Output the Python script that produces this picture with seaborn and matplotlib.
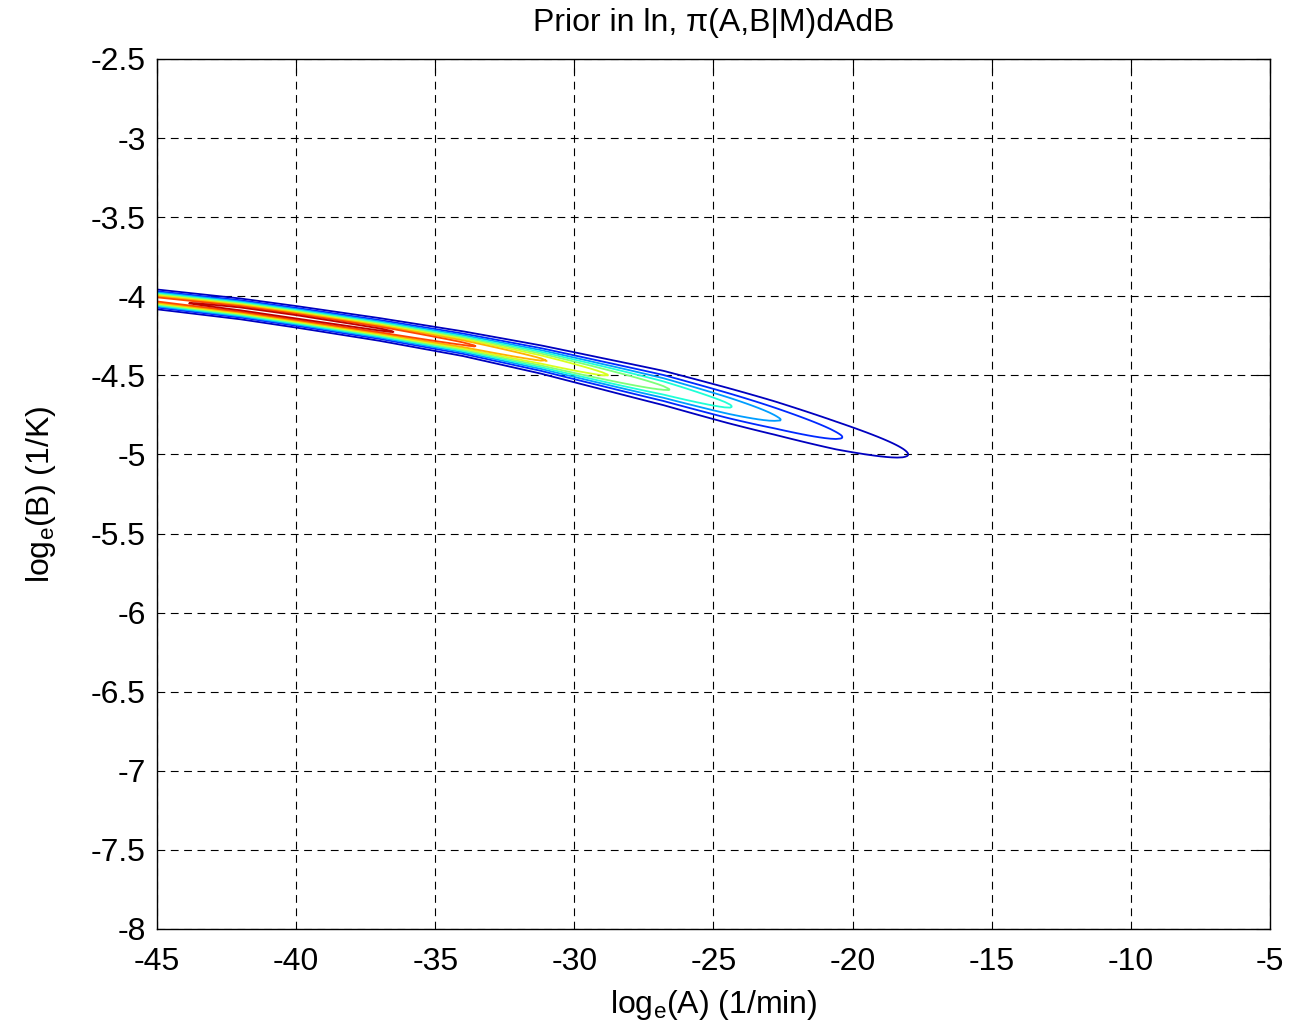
import numpy as np
import matplotlib
matplotlib.use("Agg")
import matplotlib.pyplot as plt
import seaborn as sns

# ---- data ----
ridge_A = [-45.0, -42.0, -40.0, -37.0, -34.0, -31.2, -29.0, -26.8, -24.5, -22.8, -20.6, -18.0, -16.5]
ridge_B = [-4.02, -4.08, -4.13, -4.21, -4.30, -4.40, -4.49, -4.58, -4.69, -4.77, -4.88, -5.00, -5.08]
ridge_peak = [0.88, 0.94, 0.95, 0.92, 0.82, 0.71, 0.61, 0.51, 0.41, 0.31, 0.21, 0.10, 0.0]
ridge_width = [0.030, 0.031, 0.032, 0.034, 0.038, 0.045, 0.052, 0.060, 0.066, 0.070, 0.072, 0.068, 0.06]
levels = [0.1, 0.2, 0.3, 0.4, 0.5, 0.6, 0.7, 0.8, 0.9]
x_ticks = [-45, -40, -35, -30, -25, -20, -15, -10, -5]
y_ticks = [-2.5, -3, -3.5, -4, -4.5, -5, -5.5, -6, -6.5, -7, -7.5, -8]

sns.set_style("white")
plt.rcParams["font.family"] = ["Liberation Sans", "DejaVu Sans"]
plt.rcParams["mathtext.default"] = "regular"
plt.rcParams["text.color"] = "black"
plt.rcParams["axes.labelcolor"] = "black"

fig = plt.figure(figsize=(12.91, 10.29), dpi=100)
ax = fig.add_axes([0.1216, 0.0972, 0.9837 - 0.1216, 0.9427 - 0.0972])

gA = np.arange(-45, -4.99, 0.2)
gB = np.arange(-8, -2.499, 0.005)
AA, BB = np.meshgrid(gA, gB)
cen = np.interp(AA, ridge_A, ridge_B)
amp = np.interp(AA, ridge_A, ridge_peak)
wid = np.interp(AA, ridge_A, ridge_width)
Z = amp * np.exp(-0.5 * ((BB - cen) / wid) ** 2)

cmap = plt.get_cmap("jet")
ax.contour(AA, BB, Z, levels=levels, cmap=cmap, vmin=0.05, vmax=0.95, linewidths=1.3)

ax.set_xlim(-45, -5)
ax.set_ylim(-8, -2.5)
ax.set_xticks(x_ticks)
ax.set_yticks(y_ticks)
ax.set_xticklabels([str(t) for t in x_ticks])
ax.set_yticklabels([("%g" % t) for t in y_ticks])
ax.grid(True, color="black", linestyle=(0, (7, 5)), linewidth=0.8)
ax.tick_params(direction="in", length=10, width=0.8, top=True, right=True,
               labelsize=23, colors="black")
ax.tick_params(axis="x", pad=13)
ax.tick_params(axis="y", pad=8)
for s in ax.spines.values():
    s.set_color("black")
    s.set_linewidth(1.0)
ax.set_xlabel("log$_e$(A) (1/min)", fontsize=23, labelpad=8, color="black")
ax.set_ylabel("log$_e$(B) (1/K)", fontsize=23, labelpad=24, color="black")
ax.set_title("Prior in ln, \u03c0(A,B|M)dAdB", fontsize=23, pad=20, color="black")

fig.savefig("out.png", dpi=100, facecolor="white")
